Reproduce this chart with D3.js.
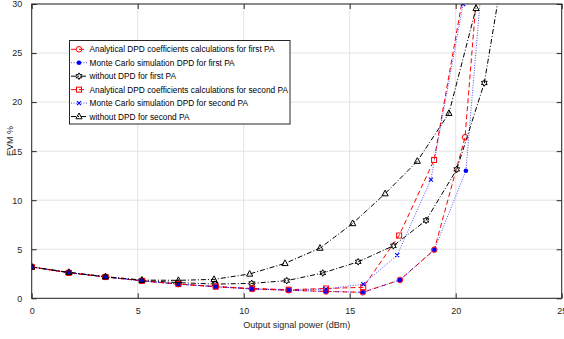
<!DOCTYPE html>
<html><head><meta charset="utf-8">
<script src="https://cdn.jsdelivr.net/npm/d3@7"></script>
<style>
body{margin:0;background:#fff}
svg{display:block}
text{font-family:"Liberation Sans",Arial,Helvetica,sans-serif}
</style>
</head><body>
<svg id="c" width="564" height="339"></svg>
<script>
// ---- data ----
const xTicks = [0, 5, 10, 15, 20, 25];
const yTicks = [0, 5, 10, 15, 20, 25, 30];
const xLabel = "Output signal power (dBm)";
const yLabel = "EVM %";
const seriesNames = [
  "Analytical DPD coefficients calculations for first PA",
  "Monte Carlo simulation DPD for first PA",
  "without DPD for first PA",
  "Analytical DPD coefficients calculations for second PA",
  "Monte Carlo simulation DPD for second PA",
  "without DPD for second PA"
];
// Analytical DPD, first PA
const xA1 = [0, 1.75, 3.48, 5.2, 6.92, 8.68, 10.4, 12.12, 13.88, 15.62, 17.37, 18.99, 20.44, 21.1];
const yA1 = [3.2, 2.6, 2.18, 1.78, 1.45, 1.18, 0.95, 0.82, 0.7, 0.61, 1.87, 4.95, 16.42, 34];
// Monte Carlo DPD, first PA
const xM1 = [0, 1.75, 3.48, 5.2, 6.92, 8.68, 10.4, 12.12, 13.88, 15.62, 17.37, 18.99, 20.48, 21.3];
const yM1 = [3.2, 2.6, 2.18, 1.78, 1.45, 1.18, 0.95, 0.82, 0.7, 0.61, 1.87, 4.95, 13.0, 34];
// without DPD, first PA
const xW1 = [0, 1.75, 3.48, 5.2, 6.9, 8.65, 10.38, 12.03, 13.73, 15.4, 17.06, 18.6, 20.05, 21.35, 22.2];
const yW1 = [3.2, 2.62, 2.2, 1.82, 1.6, 1.45, 1.52, 1.8, 2.58, 3.72, 5.35, 7.94, 13.14, 21.95, 33];
// Analytical DPD, second PA
const xA2 = [0, 1.75, 3.48, 5.2, 6.92, 8.68, 10.4, 12.12, 13.88, 15.64, 17.33, 18.98, 20.4];
const yA2 = [3.2, 2.6, 2.18, 1.78, 1.45, 1.2, 1.0, 0.88, 1.0, 1.12, 6.4, 14.1, 31.5];
// Monte Carlo DPD, second PA
const xM2 = [0, 1.75, 3.48, 5.2, 6.92, 8.68, 10.4, 12.12, 13.88, 15.64, 17.24, 18.83, 20.35];
const yM2 = [3.2, 2.6, 2.18, 1.78, 1.45, 1.18, 0.97, 0.85, 0.93, 1.45, 4.4, 12.1, 30.0];
// without DPD, second PA
const xW2 = [0, 1.75, 3.48, 5.2, 6.92, 8.6, 10.28, 11.95, 13.6, 15.14, 16.67, 18.19, 19.68, 20.96];
const yW2 = [3.2, 2.65, 2.2, 1.86, 1.83, 1.93, 2.48, 3.56, 5.12, 7.63, 10.67, 13.98, 18.86, 29.56];

const seriesX = [xA1, xM1, xW1, xA2, xM2, xW2];
const seriesY = [yA1, yM1, yW1, yA2, yM2, yW2];

// ---- styles ----
const styles = [
  {color:"#ff0000", dash:"5,3", width:1, marker:"circle"},
  {color:"#0000ff", dash:"1,1.5", width:0.7, marker:"dot"},
  {color:"#000000", dash:"5,2,1,2", width:1, marker:"hexagram"},
  {color:"#ff0000", dash:"5,3", width:1, marker:"square"},
  {color:"#0000ff", dash:"1,1.5", width:0.7, marker:"x"},
  {color:"#000000", dash:"5,2,1,2", width:1, marker:"triangle"}
];

const svg = d3.select("#c");
const L = 31.7, R = 561.7, T = 4, B = 298.3;
const x = d3.scaleLinear().domain([0, 25]).range([L, R]);
const y = d3.scaleLinear().domain([0, 30]).range([B, T]);
const axisColor = "#262626";

svg.append("rect").attr("width",564).attr("height",339).attr("fill","#fff");
svg.append("rect").attr("x",L).attr("y",T).attr("width",R-L).attr("height",B-T).attr("fill","#fff");

// grid
const grid = svg.append("g");
grid.selectAll("line.gx").data(xTicks).join("line")
  .attr("x1",d=>x(d)).attr("x2",d=>x(d)).attr("y1",T).attr("y2",B)
  .attr("stroke","#e3e3e3").attr("stroke-width",1);
grid.selectAll("line.gy").data(yTicks).join("line")
  .attr("x1",L).attr("x2",R).attr("y1",d=>y(d)).attr("y2",d=>y(d))
  .attr("stroke","#e3e3e3").attr("stroke-width",1);

// axes (ticks inward) via d3 axes
const fmt = d3.format("d");
const ax = svg.append("g").attr("transform",`translate(0,${B})`)
  .call(d3.axisBottom(x).tickValues(xTicks).tickSizeInner(-5).tickSizeOuter(0).tickPadding(9).tickFormat(fmt));
const axTop = svg.append("g").attr("transform",`translate(0,${T})`)
  .call(d3.axisTop(x).tickValues(xTicks).tickSizeInner(-5).tickSizeOuter(0).tickFormat(""));
const ay = svg.append("g").attr("transform",`translate(${L},0)`)
  .call(d3.axisLeft(y).tickValues(yTicks).tickSizeInner(-5).tickSizeOuter(0).tickPadding(9).tickFormat(fmt));
const ayR = svg.append("g").attr("transform",`translate(${R},0)`)
  .call(d3.axisRight(y).tickValues(yTicks).tickSizeInner(-5).tickSizeOuter(0).tickFormat(""));
[ax, axTop, ay, ayR].forEach(g=>{
  g.select(".domain").remove();
  g.selectAll(".tick line").attr("stroke",axisColor).attr("stroke-width",1);
  g.selectAll("text").attr("fill",axisColor).attr("font-size","9px")
    .attr("font-family",'"Liberation Sans",Arial,sans-serif');
});
ay.selectAll("text").attr("dx","-0.5");

// data lines
const clipId = "plotclip";
svg.append("clipPath").attr("id",clipId).append("rect")
  .attr("x",L).attr("y",T).attr("width",R-L).attr("height",B-T);
const plot = svg.append("g").attr("clip-path",`url(#${clipId})`);
const line = d3.line().x(d=>x(d[0])).y(d=>y(d[1]));

function hexPath(r){
  let p=[];
  for(let i=0;i<12;i++){
    const a = -Math.PI/2 + i*Math.PI/6;
    const rr = (i%2===0)? r : r*0.55;
    p.push([rr*Math.cos(a), rr*Math.sin(a)]);
  }
  return "M"+p.map(q=>q[0].toFixed(2)+","+q[1].toFixed(2)).join("L")+"Z";
}
function drawMarker(g, type, cx, cy, color){
  const m = g.append("g").attr("transform",`translate(${cx},${cy})`);
  if(type==="circle"){
    m.append("circle").attr("r",2.8).attr("fill","none").attr("stroke",color).attr("stroke-width",1);
  } else if(type==="dot"){
    m.append("circle").attr("r",2.3).attr("fill",color).attr("stroke","none");
  } else if(type==="hexagram"){
    m.append("path").attr("d",hexPath(3.3)).attr("fill","none").attr("stroke",color).attr("stroke-width",1);
  } else if(type==="square"){
    m.append("rect").attr("x",-2.5).attr("y",-2.5).attr("width",5).attr("height",5)
      .attr("fill","none").attr("stroke",color).attr("stroke-width",1);
  } else if(type==="x"){
    m.append("path").attr("d","M-2,-2L2,2M-2,2L2,-2").attr("stroke",color).attr("stroke-width",1.1);
  } else if(type==="triangle"){
    m.append("path").attr("d","M0,-3.5L3.1,2.2L-3.1,2.2Z").attr("fill","none").attr("stroke",color).attr("stroke-width",1);
  }
}

seriesX.forEach((xs,i)=>{
  const st = styles[i];
  const pts = xs.map((v,j)=>[v, seriesY[i][j]]);
  plot.append("path").datum(pts).attr("d",line)
    .attr("fill","none").attr("stroke",st.color).attr("stroke-width",st.width)
    .attr("stroke-dasharray",st.dash);
});
seriesX.forEach((xs,i)=>{
  const st = styles[i];
  xs.forEach((v,j)=>{
    const yy = seriesY[i][j];
    if(yy<=30.3) drawMarker(plot, st.marker, x(v), y(yy), st.color);
  });
});

// box
svg.append("rect").attr("x",L).attr("y",T).attr("width",R-L).attr("height",B-T)
  .attr("fill","none").attr("stroke",axisColor).attr("stroke-width",1);

// axis labels
svg.append("text").attr("x",(L+R)/2).attr("y",328).attr("text-anchor","middle")
  .attr("font-size","9px").attr("fill",axisColor).text(xLabel);
svg.append("text").attr("transform","translate(12.5,141) rotate(-90)").attr("text-anchor","middle")
  .attr("font-size","9px").attr("fill",axisColor).text(yLabel);

// legend
const lg = svg.append("g");
lg.append("rect").attr("x",69.5).attr("y",40.5).attr("width",220.5).attr("height",83.5)
  .attr("fill","#fff").attr("stroke",axisColor).attr("stroke-width",1);
seriesNames.forEach((name,i)=>{
  const st = styles[i];
  const ry = 49.3 + i*13.45;
  lg.append("line").attr("x1",71).attr("x2",87).attr("y1",ry).attr("y2",ry)
    .attr("stroke",st.color).attr("stroke-width",st.width).attr("stroke-dasharray",st.dash);
  drawMarker(lg, st.marker, 79, ry, st.color);
  lg.append("text").attr("x",89.5).attr("y",ry+3).attr("font-size","8.3px")
    .attr("fill","#000").text(name);
});
</script>
</body></html>
